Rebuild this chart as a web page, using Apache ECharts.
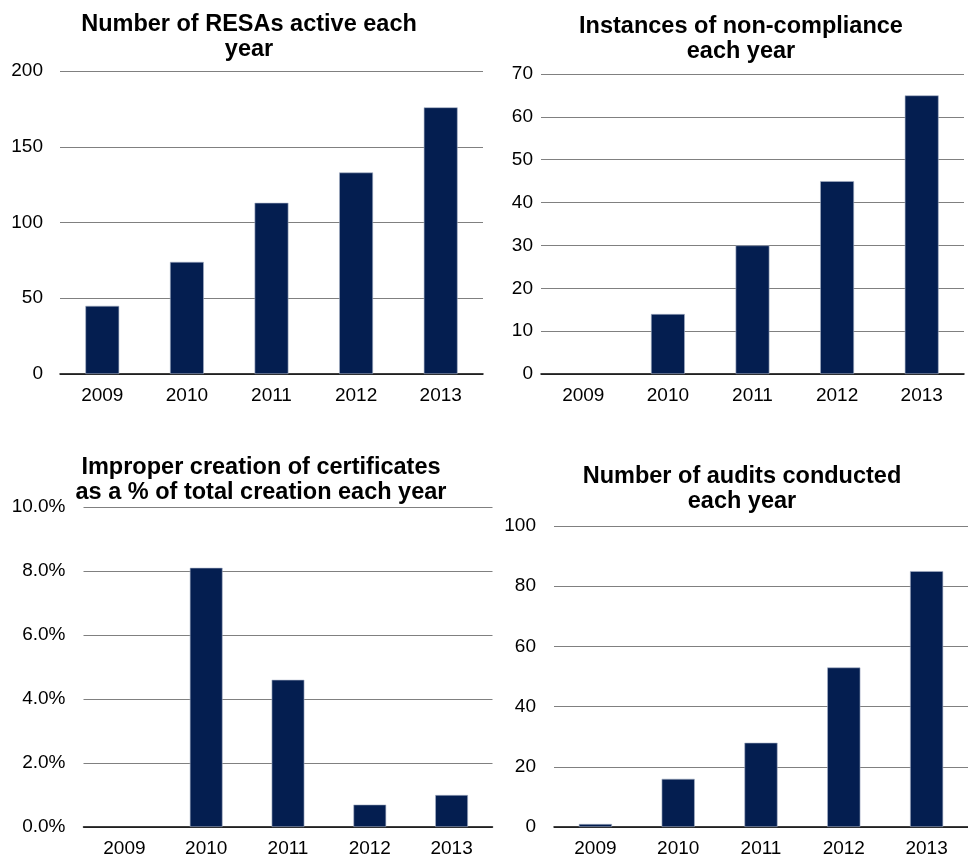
<!DOCTYPE html>
<html>
<head>
    <meta charset="utf-8">
    <style>
        html, body { margin: 0; padding: 0; background: #fff; }
        #chart-container { width: 968px; height: 863px; }
    </style>
</head>
<body>
    <div id="chart-container"></div>

    <script type="text/javascript" src="https://cdn.jsdelivr.net/npm/echarts@6/dist/echarts.min.js"></script>
    <script type="text/javascript">
        // data
        var years = ['2009', '2010', '2011', '2012', '2013'];
        var resasActive = [45, 74, 113, 133, 176];
        var nonCompliance = [0, 14, 30, 45, 65];
        var improperPct = [0, 8.1, 4.6, 0.7, 1.0];
        var auditsConducted = [1, 16, 28, 53, 85];

        var titles = [
            'Number of RESAs active each\nyear',
            'Instances of non-compliance\neach year',
            'Improper creation of certificates\nas a % of total creation each year',
            'Number of audits conducted\neach year'
        ];

        var font = '"Liberation Sans", Arial, sans-serif';
        var barColor = '#041e50';

        var chartDom = document.getElementById('chart-container');
        var myChart = echarts.init(chartDom, null, { renderer: 'canvas' });

        // one panel = grid + axes + series + title
        var panels = [
            { data: resasActive, max: 200, interval: 50, left: 60, top: 71, width: 423, height: 303,
              labelMargin: 17, fmt: null, tx: 244, ty: 7 },
            { data: nonCompliance, max: 70, interval: 10, left: 541, top: 74, width: 423, height: 300,
              labelMargin: 8, fmt: null, tx: 736, ty: 9 },
            { data: improperPct, max: 10, interval: 2, left: 83.5, top: 507, width: 409, height: 320,
              labelMargin: 18, fmt: function (v) { return v.toFixed(1) + '%'; }, tx: 256, ty: 450 },
            { data: auditsConducted, max: 100, interval: 20, left: 554, top: 526, width: 423, height: 301,
              labelMargin: 18, fmt: null, tx: 737, ty: 459 }
        ];

        var option = {
            animation: false,
            backgroundColor: '#fff',
            title: [],
            grid: [],
            xAxis: [],
            yAxis: [],
            series: []
        };

        panels.forEach(function (p, i) {
            option.title.push({
                text: titles[i],
                left: p.tx,
                top: p.ty,
                textAlign: 'center',
                textStyle: {
                    fontFamily: font,
                    fontSize: 23.5,
                    fontWeight: 'bold',
                    lineHeight: 25,
                    color: '#000'
                }
            });
            option.grid.push({
                left: p.left,
                top: p.top,
                width: p.width,
                height: p.height,
                containLabel: false
            });
            option.xAxis.push({
                type: 'category',
                gridIndex: i,
                data: years,
                axisTick: { show: false },
                axisLine: { lineStyle: { color: '#000', width: 1.5 } },
                axisLabel: {
                    fontFamily: font,
                    fontSize: 19,
                    color: '#000',
                    margin: 12,
                    interval: 0
                }
            });
            option.yAxis.push({
                type: 'value',
                gridIndex: i,
                min: 0,
                max: p.max,
                interval: p.interval,
                axisLine: { show: false },
                axisTick: { show: false },
                splitLine: { lineStyle: { color: '#808080', width: 1 } },
                axisLabel: {
                    fontFamily: font,
                    fontSize: 19,
                    color: '#000',
                    margin: p.labelMargin,
                    formatter: p.fmt || '{value}'
                }
            });
            option.series.push({
                type: 'bar',
                xAxisIndex: i,
                yAxisIndex: i,
                // zero bars get no edge so nothing shows on the axis
                data: p.data.map(function (v) {
                    return v === 0 ? { value: 0, itemStyle: { borderWidth: 0 } } : v;
                }),
                barWidth: '40%',
                itemStyle: {
                    color: barColor,
                    borderColor: '#a9b3c8',
                    borderWidth: 0.6
                }
            });
        });

        myChart.setOption(option);
    </script>
</body>
</html>
